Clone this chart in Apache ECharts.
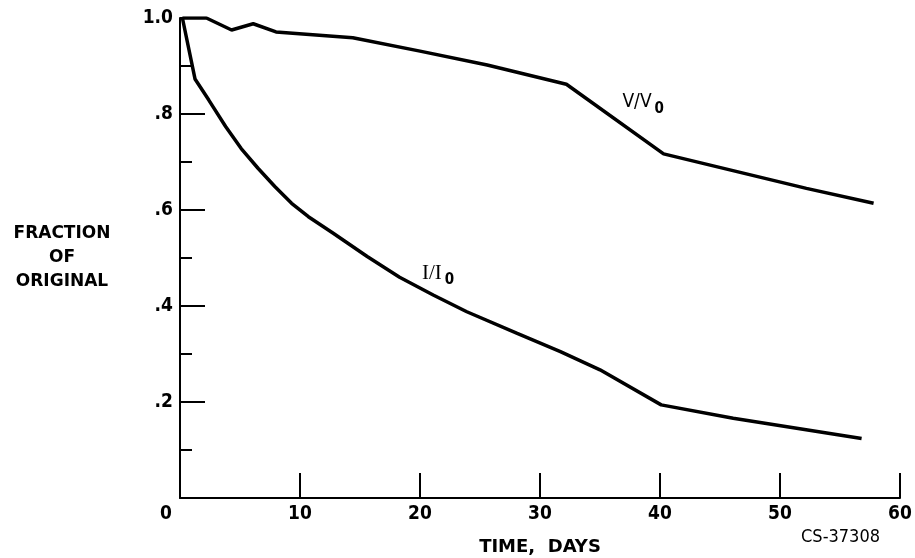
<!DOCTYPE html>
<html>
<head>
<meta charset="utf-8">
<script src="https://cdn.jsdelivr.net/npm/echarts@6/dist/echarts.min.js"></script>
<style>
  html, body { margin: 0; padding: 0; background: #fff; }
  #main { width: 915px; height: 558px; }
</style>
</head>
<body>
<div id="main"></div>
<script>
// time in days, values as fraction of original
var vDays = [0.2, 2.2, 4.3, 6.1, 8.0, 14.4, 20, 25.6, 32.2, 40.3, 52.2, 57.8];
var vValues = [1.0, 1.0, 0.975, 0.988, 0.971, 0.959, 0.931, 0.902, 0.862, 0.717, 0.645, 0.614];

var iDays = [0.2, 1.25, 2.4, 3.8, 5.1, 6.5, 7.9, 9.3, 10.7, 12.8, 15.6, 18.3, 21.1, 23.9, 28.1, 31.7, 35, 40.1, 46.1, 56.8];
var iValues = [1.0, 0.873, 0.829, 0.774, 0.728, 0.687, 0.649, 0.614, 0.586, 0.551, 0.503, 0.460, 0.423, 0.388, 0.343, 0.305, 0.267, 0.194, 0.166, 0.124];

var xTicks = [0, 10, 20, 30, 40, 50, 60];
var yTickLabels = { '0.2': '.2', '0.4': '.4', '0.6': '.6', '0.8': '.8', '1': '1.0' };

var narrow = '"DejaVu Sans Condensed", "DejaVu Sans", sans-serif';
var wide = '"DejaVu Sans", sans-serif';

function pairs(xs, ys) {
  return xs.map(function (x, i) { return [x, ys[i]]; });
}

var chart = echarts.init(document.getElementById('main'));

var option = {
  animation: false,
  backgroundColor: '#fff',
  grid: { left: 180, right: 15, top: 18, bottom: 60, containLabel: false, outerBoundsMode: 'none' },
  xAxis: {
    type: 'value',
    min: xTicks[0],
    max: xTicks[xTicks.length - 1],
    interval: 10,
    name: 'TIME,  DAYS',
    nameLocation: 'middle',
    nameGap: 40,
    nameTextStyle: { color: '#000', fontFamily: wide, fontSize: 18, fontWeight: 'bold' },
    axisLine: { lineStyle: { color: '#000', width: 2 } },
    axisTick: { inside: true, length: 25, lineStyle: { color: '#000', width: 2 } },
    axisLabel: {
      color: '#000', fontFamily: narrow, fontSize: 19, fontWeight: 'bold', margin: 7,
      formatter: function (v) { return v === 0 ? '{z|0}' : String(v); },
      rich: { z: { color: '#000', fontFamily: narrow, fontSize: 19, fontWeight: 'bold', padding: [0, 28, 0, 0] } }
    },
    splitLine: { show: false }
  },
  yAxis: {
    type: 'value',
    min: 0,
    max: 1,
    interval: 0.2,
    name: 'FRACTION\nOF\nORIGINAL',
    nameLocation: 'middle',
    nameRotate: 0,
    nameGap: 118,
    nameTextStyle: { color: '#000', fontFamily: wide, fontSize: 17, fontWeight: 'bold', align: 'center', lineHeight: 24 },
    axisLine: { lineStyle: { color: '#000', width: 2 } },
    axisTick: { inside: true, length: 25, lineStyle: { color: '#000', width: 2 } },
    minorTick: { show: true, splitNumber: 2, length: 12, lineStyle: { color: '#000', width: 2 } },
    axisLabel: {
      color: '#000', fontFamily: narrow, fontSize: 19, fontWeight: 'bold', margin: 7,
      formatter: function (v) { return yTickLabels[String(+v.toFixed(1))] || ''; }
    },
    splitLine: { show: false }
  },
  series: [
    {
      name: 'V/V0',
      type: 'line',
      showSymbol: false,
      data: pairs(vDays, vValues),
      lineStyle: { color: '#000', width: 3.5 },
      markPoint: {
        symbol: 'circle', symbolSize: 1,
        itemStyle: { color: 'rgba(0,0,0,0)' },
        label: {
          show: true, position: 'inside', color: '#000',
          formatter: '{m|V/V}{s|0}',
          rich: {
            m: { fontFamily: narrow, fontSize: 19, color: '#000' },
            s: { fontFamily: narrow, fontSize: 15, color: '#000', fontWeight: 'bold', padding: [14, 0, 0, 3] }
          }
        },
        data: [{ coord: [38.6, 0.825] }]
      }
    },
    {
      name: 'I/I0',
      type: 'line',
      showSymbol: false,
      data: pairs(iDays, iValues),
      lineStyle: { color: '#000', width: 3.5 },
      markPoint: {
        symbol: 'circle', symbolSize: 1,
        itemStyle: { color: 'rgba(0,0,0,0)' },
        label: {
          show: true, position: 'inside', color: '#000',
          formatter: '{m|I/I}{s|0}',
          rich: {
            m: { fontFamily: '"Liberation Serif", serif', fontSize: 21, color: '#000' },
            s: { fontFamily: narrow, fontSize: 15, color: '#000', fontWeight: 'bold', padding: [14, 0, 0, 3] }
          }
        },
        data: [{ coord: [21.5, 0.468] }]
      }
    }
  ],
  graphic: [
    {
      type: 'text',
      right: 35,
      top: 528,
      style: { text: 'CS-37308', fill: '#000', font: '18px ' + narrow }
    }
  ]
};

chart.setOption(option);
</script>
</body>
</html>
